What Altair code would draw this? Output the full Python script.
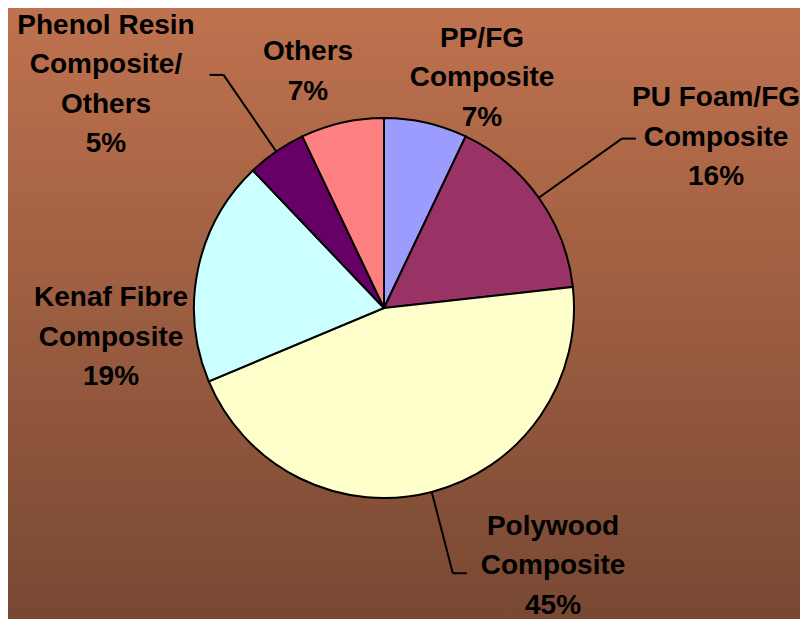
import math
import altair as alt
import pandas as pd

# ---- data ----
categories = ["PP/FG Composite", "PU Foam/FG Composite", "Polywood Composite",
              "Kenaf Fibre Composite", "Phenol Resin Composite/Others", "Others"]
shares = [7, 16, 45, 19, 5, 7]
label_names = [["PP/FG", "Composite"], ["PU Foam/FG", "Composite"], ["Polywood", "Composite"],
               ["Kenaf Fibre", "Composite"], ["Phenol Resin", "Composite/", "Others"], ["Others"]]
colors = ["#9C9CFF", "#993366", "#FFFFCC", "#CCFFFF", "#660066", "#FF8080"]

# ---- layout ----
W, H = 792, 611
CX, CY = 376, 300
R = 190
FONT = "Liberation Sans"
FS = 28
LH = 39.5
label_offsets = [(98, -230), (332, -170.5), (169, 258), (-273, 29.5), (-278, -223), (-76, -236)]
elbow_r = [None, 292, 274, None, 283, None]
HOOK = 14

total = sum(shares)
pie_df = pd.DataFrame({"category": categories, "share": shares, "order": list(range(len(shares)))})

rows = []
seg = []
cum = 0
for i, (name, v) in enumerate(zip(label_names, shares)):
    mid = (cum + v / 2) / total * 2 * math.pi
    cum += v
    dx, dy = label_offsets[i]
    lines = name + [f"{v}%"]
    # Vega places the first line at y; shift so the block is centred on the anchor
    rows.append({"x": CX + dx, "y": CY + dy - (len(lines) - 1) / 2 * LH, "text": "\n".join(lines)})
    if elbow_r[i]:
        er = elbow_r[i]
        x0, y0 = CX + R * math.sin(mid), CY - R * math.cos(mid)
        x1, y1 = CX + er * math.sin(mid), CY - er * math.cos(mid)
        side = 1 if math.sin(mid) >= 0 else -1
        seg.append({"x": x0, "y": y0, "x2": x1, "y2": y1})
        seg.append({"x": x1, "y": y1, "x2": x1 + side * HOOK, "y2": y1})
lab_df = pd.DataFrame(rows)
seg_df = pd.DataFrame(seg)

bg = alt.Chart(pd.DataFrame({"a": [0]})).mark_rect(
    color=alt.Gradient(gradient="linear", x1=0, x2=0, y1=0, y2=1,
                       stops=[alt.GradientStop(offset=0, color="#BF724E"),
                              alt.GradientStop(offset=1, color="#784833")])
).encode(x=alt.value(0), x2=alt.value(W), y=alt.value(0), y2=alt.value(H))

pie = alt.Chart(pie_df).mark_arc(outerRadius=R, stroke="black", strokeWidth=2).encode(
    theta=alt.Theta("share:Q", stack=True),
    color=alt.Color("category:N", scale=alt.Scale(domain=categories, range=colors), legend=None),
    order=alt.Order("order:Q"),
    x=alt.value(CX), y=alt.value(CY),
)

leaders = alt.Chart(seg_df).mark_rule(color="black", strokeWidth=2).encode(
    x=alt.X("x:Q", scale=None, axis=None), y=alt.Y("y:Q", scale=None, axis=None),
    x2="x2:Q", y2="y2:Q",
)

labels = alt.Chart(lab_df).mark_text(
    font=FONT, fontSize=FS, fontWeight="bold", color="black",
    align="center", baseline="middle", lineBreak="\n", lineHeight=LH,
).encode(
    x=alt.X("x:Q", scale=None, axis=None), y=alt.Y("y:Q", scale=None, axis=None),
    text="text:N",
)

chart = alt.layer(bg, pie, leaders, labels).properties(
    width=W, height=H, padding=0, autosize="none", background="#BF724E"
).configure_view(stroke=None)

chart.save("out.html", embed_options={"renderer": "svg", "actions": False})
